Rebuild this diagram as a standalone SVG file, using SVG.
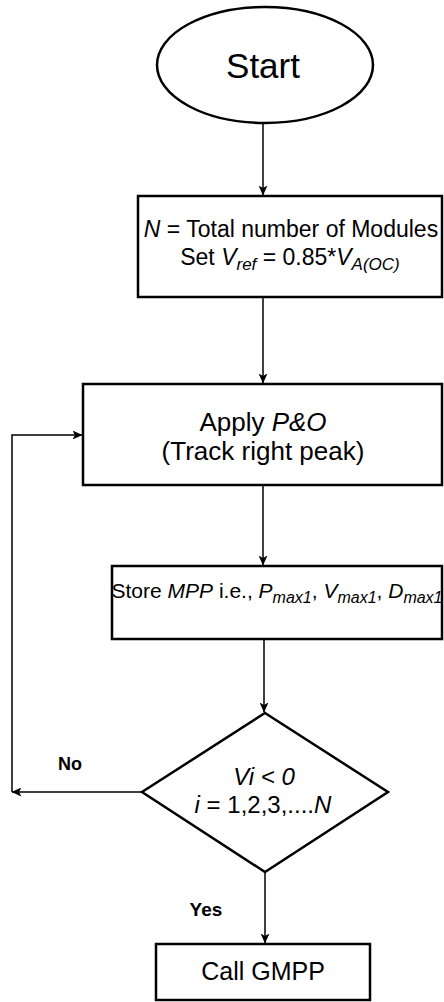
<svg xmlns="http://www.w3.org/2000/svg" width="444" height="1002" viewBox="0 0 444 1002">
  <defs>
    <style>
      .shape { fill: #ffffff; stroke: #000000; stroke-width: 2.5; }
      .edge { fill: none; stroke: #000000; stroke-width: 1.5; }
      .lbl { font-family: "Liberation Sans", Arial, Helvetica, sans-serif; fill: #000000; text-anchor: middle; }
      .it { font-style: italic; }
      .bold { font-weight: bold; }
    </style>
    <marker id="arrow" viewBox="0 0 10 9" markerWidth="10" markerHeight="9" refX="9.5" refY="4.5" orient="auto" markerUnits="userSpaceOnUse">
      <path d="M0,0 L10,4.5 L0,9 L2.5,4.5 z" fill="#000000"/>
    </marker>
  </defs>
  <rect width="444" height="1002" fill="#ffffff"/>

  <!-- connectors -->
  <g id="connectors">
    <path class="edge" d="M263,123 V195" marker-end="url(#arrow)"/>
    <path class="edge" d="M263,297 V383" marker-end="url(#arrow)"/>
    <path class="edge" d="M263,485 V565" marker-end="url(#arrow)"/>
    <path class="edge" d="M264,639 V712" marker-end="url(#arrow)"/>
    <path class="edge" d="M142,792 H12" marker-end="url(#arrow)"/>
    <path class="edge" d="M12,792 V435 H82" marker-end="url(#arrow)"/>
    <path class="edge" d="M265,872 V943" marker-end="url(#arrow)"/>
    <text class="lbl bold" x="70" y="770" font-size="18">No</text>
    <text class="lbl bold" x="206" y="916" font-size="19">Yes</text>
  </g>

  <!-- start terminal -->
  <g id="start">
    <ellipse class="shape" cx="265" cy="65" rx="108" ry="58" stroke-width="2"/>
    <text class="lbl" x="263" y="78" font-size="35">Start</text>
  </g>

  <!-- initialisation -->
  <g id="init">
    <rect class="shape" x="138" y="196" width="304" height="101"/>
    <text class="lbl" x="291" y="237" font-size="23"><tspan class="it">N</tspan> = Total number of Modules</text>
    <text class="lbl" x="290" y="265" font-size="23">Set <tspan class="it">V</tspan><tspan class="it" font-size="17" dy="5">ref</tspan><tspan dy="-5"> = 0.85*</tspan><tspan class="it">V</tspan><tspan class="it" font-size="17" dy="5">A(OC)</tspan></text>
  </g>

  <!-- perturb and observe -->
  <g id="po">
    <rect class="shape" x="83" y="384" width="359" height="101"/>
    <text class="lbl" x="263" y="431" font-size="26">Apply <tspan class="it">P&amp;O</tspan></text>
    <text class="lbl" x="263" y="460" font-size="26">(Track right peak)</text>
  </g>

  <!-- store maximum power point -->
  <g id="store">
    <rect class="shape" x="112" y="566" width="330" height="73"/>
    <text class="lbl" x="277" y="598" font-size="21">Store <tspan class="it">MPP</tspan> i.e., <tspan class="it">P</tspan><tspan class="it" font-size="16" dy="5">max1</tspan><tspan dy="-5">, </tspan><tspan class="it">V</tspan><tspan class="it" font-size="16" dy="5">max1</tspan><tspan dy="-5">, </tspan><tspan class="it">D</tspan><tspan class="it" font-size="16" dy="5">max1</tspan></text>
  </g>

  <!-- decision -->
  <g id="decision">
    <polygon class="shape" points="265,713 388,792 265,872 142,792"/>
    <text class="lbl it" x="264" y="785" font-size="24">Vi &lt; 0</text>
    <text class="lbl" x="263" y="813" font-size="24"><tspan class="it">i</tspan> = 1,2,3,....<tspan class="it">N</tspan></text>
  </g>

  <!-- global search -->
  <g id="gmpp">
    <rect class="shape" x="156" y="944" width="214" height="56" stroke-width="1.5"/>
    <text class="lbl" x="263" y="980" font-size="25">Call GMPP</text>
  </g>
</svg>
